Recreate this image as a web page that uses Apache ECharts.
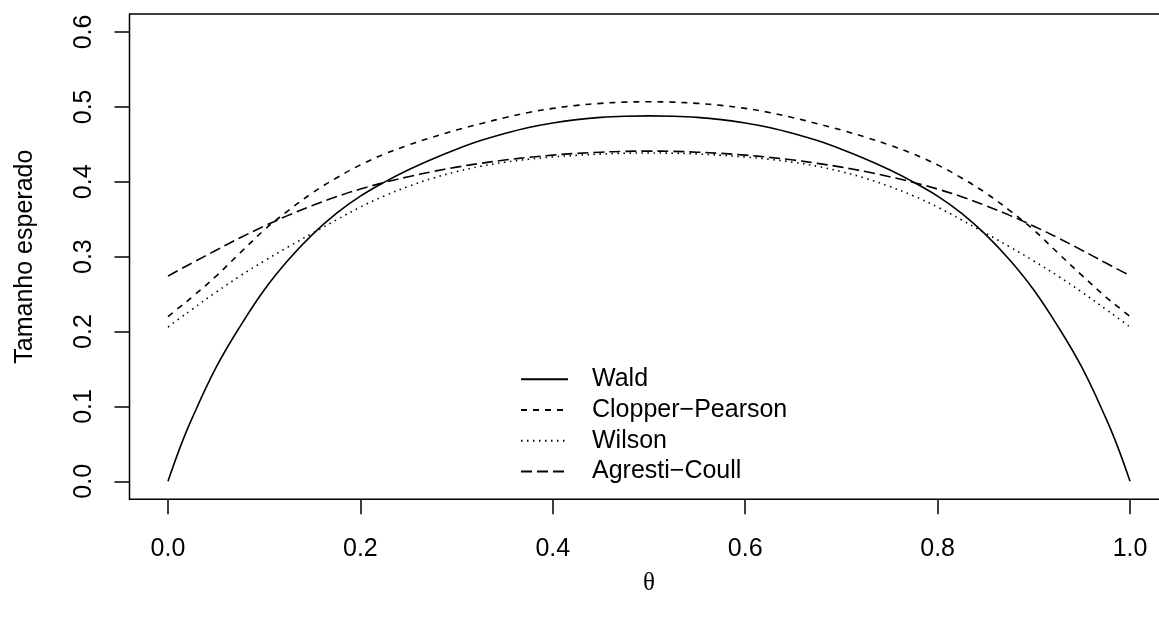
<!DOCTYPE html>
<html>
<head>
<meta charset="utf-8">
<script src="https://cdn.jsdelivr.net/npm/echarts@6/dist/echarts.min.js"></script>
<style>
html,body{margin:0;padding:0;background:#fff;}
#chart{width:1159px;height:619px;}
</style>
</head>
<body>
<div id="chart"></div>
<script>
// theta grid (x values)
const theta = [0, 0.0125, 0.025, 0.05, 0.075, 0.1, 0.125, 0.15, 0.175, 0.2, 0.225, 0.25, 0.275, 0.3, 0.325, 0.35, 0.375, 0.4, 0.425, 0.45, 0.475, 0.5,
               0.525, 0.55, 0.575, 0.6, 0.625, 0.65, 0.675, 0.7, 0.725, 0.75, 0.775, 0.8, 0.825, 0.85, 0.875, 0.9, 0.925, 0.95, 0.975, 0.9875, 1];
const wald = [0, 0.045, 0.084, 0.152, 0.207, 0.2555, 0.2955, 0.3295, 0.3578, 0.3808, 0.3995, 0.416, 0.4305, 0.4435, 0.455, 0.4645, 0.4725, 0.4785, 0.483, 0.486, 0.4875, 0.488,
              0.4875, 0.486, 0.483, 0.4785, 0.4725, 0.4645, 0.455, 0.4435, 0.4305, 0.416, 0.3995, 0.3808, 0.3578, 0.3295, 0.2955, 0.2555, 0.207, 0.152, 0.084, 0.045, 0];
const clopper = [0.220, 0.233, 0.246, 0.274, 0.305, 0.3355, 0.3615, 0.385, 0.405, 0.4225, 0.437, 0.449, 0.4595, 0.469, 0.4775, 0.4855, 0.4925, 0.498, 0.502, 0.5047, 0.5063, 0.5068,
                 0.5063, 0.5047, 0.502, 0.498, 0.4925, 0.4855, 0.4775, 0.469, 0.4595, 0.449, 0.437, 0.4225, 0.405, 0.385, 0.3615, 0.3355, 0.305, 0.275, 0.246, 0.233, 0.220];
const wilson = [0.206, 0.218, 0.2296, 0.2526, 0.2742, 0.2942, 0.3131, 0.3312, 0.349, 0.3662, 0.3811, 0.3938, 0.4046, 0.4135, 0.4206, 0.426, 0.4301, 0.4331, 0.4354, 0.437, 0.4381, 0.4384,
                0.4381, 0.437, 0.4354, 0.4331, 0.4301, 0.426, 0.4206, 0.4135, 0.4046, 0.3938, 0.3811, 0.3662, 0.349, 0.3312, 0.3131, 0.2942, 0.2742, 0.2526, 0.2296, 0.218, 0.206];
const agresti = [0.274, 0.283, 0.2915, 0.3086, 0.3252, 0.3407, 0.3551, 0.3682, 0.38, 0.3902, 0.3991, 0.4068, 0.4136, 0.4195, 0.4246, 0.429, 0.4326, 0.4356, 0.4379, 0.4395, 0.4406, 0.4409,
                 0.4406, 0.4395, 0.4379, 0.4356, 0.4326, 0.429, 0.4246, 0.4195, 0.4136, 0.4068, 0.3991, 0.3902, 0.38, 0.3682, 0.3551, 0.3407, 0.3252, 0.3086, 0.2915, 0.283, 0.275];
const xTicks = [0, 0.2, 0.4, 0.6, 0.8, 1.0];
const yTicks = [0, 0.1, 0.2, 0.3, 0.4, 0.5, 0.6];
const seriesNames = ['Wald', 'Clopper\u2212Pearson', 'Wilson', 'Agresti\u2212Coull'];

const pairs = arr => theta.map((t, i) => [t, arr[i]]);
const FONT = '"Liberation Sans", Arial, Helvetica, sans-serif';

const dashStyles = ['solid', [6, 6], [1.5, 4.5], [11, 5]];
const values = [wald, clopper, wilson, agresti];

const chart = echarts.init(document.getElementById('chart'), null, {renderer: 'canvas'});
chart.setOption({
  backgroundColor: '#fff',
  animation: false,
  grid: {
    left: 129.5, top: 14, width: 1039, height: 485.3,
    outerBoundsMode: 'none', containLabel: false,
    show: true, borderColor: '#000', borderWidth: 1.5, backgroundColor: 'transparent'
  },
  legend: {
    orient: 'vertical',
    left: 520, top: 364,
    padding: 0,
    itemGap: 0,
    itemWidth: 47, itemHeight: 12,
    itemStyle: {opacity: 0},
    data: seriesNames,
    textStyle: {fontFamily: FONT, fontSize: 25, color: '#000', lineHeight: 30.7, padding: [0, 0, 0, 19]}
  },
  xAxis: {
    type: 'value', min: -0.04, max: 1.04,
    name: '\u03b8', nameLocation: 'middle', nameGap: 72,
    nameTextStyle: {fontFamily: '"Liberation Serif", "DejaVu Serif", serif', fontSize: 25, color: '#000'},
    axisLine: {show: false, onZero: false},
    splitLine: {show: false},
    axisTick: {show: true, inside: false, length: 15, customValues: xTicks, lineStyle: {color: '#000', width: 1.5}},
    axisLabel: {customValues: xTicks, formatter: v => v.toFixed(1), margin: 37,
      fontFamily: FONT, fontSize: 25, color: '#000'}
  },
  yAxis: {
    type: 'value', min: -0.024, max: 0.624,
    name: 'Tamanho esperado', nameLocation: 'middle', nameGap: 92, nameRotate: 90,
    nameTextStyle: {fontFamily: FONT, fontSize: 25, color: '#000'},
    axisLine: {show: false, onZero: false},
    splitLine: {show: false},
    axisTick: {show: true, inside: false, length: 15, customValues: yTicks, lineStyle: {color: '#000', width: 1.5}},
    axisLabel: {customValues: yTicks, formatter: v => v.toFixed(1), rotate: 90, margin: 33,
      fontFamily: FONT, fontSize: 25, color: '#000'}
  },
  series: seriesNames.map((name, k) => ({
    name: name,
    type: 'line',
    data: pairs(values[k]),
    smooth: 0.4,
    symbol: 'none',
    clip: true,
    lineStyle: {color: '#000', width: 1.6, type: dashStyles[k], cap: 'butt'},
    itemStyle: {color: '#000'}
  }))
});
</script>
</body>
</html>
